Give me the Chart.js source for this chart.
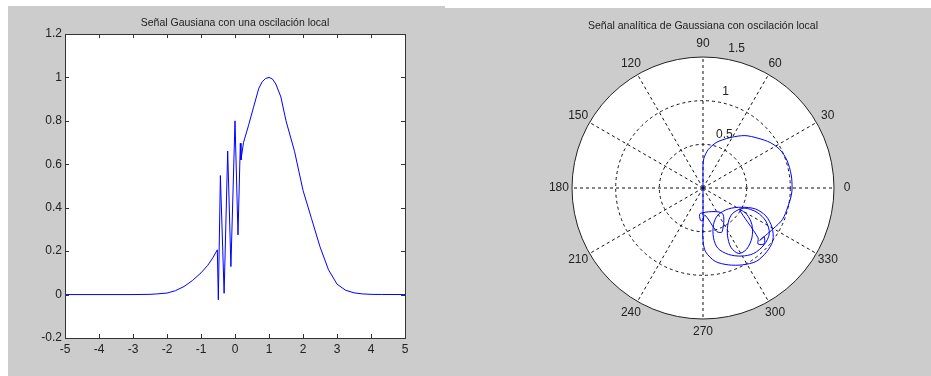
<!DOCTYPE html>
<html>
<head>
<meta charset="utf-8">
<script src="https://cdn.jsdelivr.net/npm/chart.js@4/dist/chart.umd.min.js"></script>
<style>
  html, body { margin: 0; padding: 0; background: #fff; }
  body { width: 931px; height: 376px; position: relative; overflow: hidden; font-family: 'Liberation Sans', Arial, sans-serif; }
  .panel { position: absolute; left: 8px; top: 6px; width: 923px; height: 370px; background: #cccccc; }
  .strip { position: absolute; left: 445px; top: 6px; width: 486px; height: 2px; background: #fff; }
  canvas { position: absolute; }
  #left { left: 8px; top: 6px; }
  #right { left: 440px; top: 8px; }
</style>
</head>
<body>
<div class="panel"></div>
<div class="strip"></div>
<canvas id="left" width="412" height="370"></canvas>
<canvas id="right" width="491" height="368"></canvas>
<script>
// Left plot: Gaussian with a local oscillation
const tVals = [-5, -4, -3, -2.5, -2.3, -2, -1.75, -1.5, -1.25, -1, -0.8, -0.65, -0.52,
  -0.49, -0.43, -0.32, -0.215, -0.12, 0.0, 0.088, 0.157, 0.176,
  0.25, 0.4, 0.54, 0.7, 0.8, 0.9, 1.0, 1.1, 1.2, 1.35, 1.5, 1.75, 2.0, 2.25, 2.5, 2.75,
  3.0, 3.25, 3.5, 3.75, 4.0, 4.3, 5];
const sigVals = [0, 0, 0, 0.001, 0.003, 0.007, 0.018, 0.037, 0.065, 0.1, 0.135, 0.17, 0.206,
  -0.024, 0.548, 0.006, 0.661, 0.129, 0.80, 0.275, 0.697, 0.62,
  0.70, 0.78, 0.86, 0.95, 0.98, 0.995, 1.0, 0.993, 0.97, 0.91, 0.80, 0.66, 0.48, 0.35, 0.22, 0.114,
  0.048, 0.02, 0.008, 0.003, 0.001, 0.0005, 0];
const xTicks = [-5, -4, -3, -2, -1, 0, 1, 2, 3, 4, 5];
const yTicks = [-0.2, 0, 0.2, 0.4, 0.6, 0.8, 1, 1.2];
const yTickLabels = ['-0.2', '0', '0.2', '0.4', '0.6', '0.8', '1', '1.2'];

// Right plot: analytic signal (real / imaginary parts)
const reVals = [0, 0, 0, 0, -0.03, -0.03, 0.22, 0.22, 0.16, 0.02, 0, 0,
  0.03, 0.14, 0.29, 0.45, 0.61, 0.73, 0.80, 0.79, 0.72, 0.60, 0.44, 0.29, 0.17, 0.12,
  0.12, 0.17, 0.29, 0.44, 0.58, 0.70, 0.76, 0.72, 0.62, 0.47, 0.34, 0.29,
  0.28, 0.32, 0.41, 0.50, 0.56, 0.56, 0.50, 0.42,
  0.63, 0.63, 0.70, 0.70, 0.65,
  0.80, 0.91, 0.97, 1.01, 1.02, 1.01, 0.96, 0.88, 0.77, 0.63, 0.48, 0.32, 0.22, 0.15,
  0.06, 0.01, 0, 0, 0];
const imVals = [0, -0.14, -0.29, -0.37, -0.37, -0.29, -0.29, -0.50, -0.50, -0.31, -0.41, -0.60,
  -0.73, -0.84, -0.88, -0.88, -0.84, -0.73, -0.60, -0.45, -0.32, -0.24, -0.22, -0.24, -0.31, -0.42,
  -0.57, -0.69, -0.76, -0.78, -0.75, -0.65, -0.52, -0.38, -0.28, -0.23, -0.29, -0.39,
  -0.54, -0.68, -0.75, -0.70, -0.57, -0.42, -0.30, -0.25,
  -0.57, -0.64, -0.64, -0.56, -0.60,
  -0.47, -0.36, -0.22, -0.09, 0, 0.15, 0.32, 0.44, 0.52, 0.57, 0.60, 0.58, 0.55, 0.52,
  0.44, 0.34, 0.26, 0.12, 0];
const angleTicks = [0, 30, 60, 90, 120, 150, 180, 210, 240, 270, 300, 330];
const rhoTicks = [0.5, 1, 1.5];

const FONT = "'Liberation Sans', Arial, sans-serif";
const TEXT = '#222';

const boxPlugin = {
  id: 'box',
  beforeDraw(chart) {
    const a = chart.chartArea, ctx = chart.ctx;
    ctx.save();
    ctx.fillStyle = '#fff';
    ctx.fillRect(a.left, a.top, a.right - a.left, a.bottom - a.top);
    ctx.restore();
  },
  afterDraw(chart) {
    const a = chart.chartArea, ctx = chart.ctx;
    const xs = chart.scales.x, ys = chart.scales.y;
    ctx.save();
    ctx.strokeStyle = '#333';
    ctx.lineWidth = 1;
    ctx.strokeRect(a.left + 0.5, a.top + 0.5, a.right - a.left, a.bottom - a.top);
    ctx.beginPath();
    xTicks.forEach(v => {
      const p = Math.round(xs.getPixelForValue(v)) + 0.5;
      ctx.moveTo(p, a.bottom); ctx.lineTo(p, a.bottom - 4);
      ctx.moveTo(p, a.top); ctx.lineTo(p, a.top + 4);
    });
    yTicks.forEach(v => {
      const p = Math.round(ys.getPixelForValue(v)) + 0.5;
      ctx.moveTo(a.left, p); ctx.lineTo(a.left + 4, p);
      ctx.moveTo(a.right, p); ctx.lineTo(a.right - 4, p);
    });
    ctx.stroke();
    ctx.restore();
  }
};

new Chart(document.getElementById('left'), {
  type: 'scatter',
  data: {
    datasets: [{
      data: tVals.map((t, i) => ({ x: t, y: sigVals[i] })),
      showLine: true,
      borderColor: '#0000ff',
      borderWidth: 1,
      pointRadius: 0,
      tension: 0
    }]
  },
  options: {
    responsive: false,
    animation: false,
    layout: { padding: { left: 0, right: 15, top: 0, bottom: 0 } },
    plugins: {
      legend: { display: false },
      tooltip: { enabled: false },
      title: {
        display: true,
        fullSize: false,
        text: 'Señal Gausiana con una oscilación local',
        color: TEXT,
        font: { family: FONT, size: 10.5, weight: 'normal' },
        padding: { top: 11, bottom: 4.4 }
      }
    },
    scales: {
      x: {
        type: 'linear', min: -5, max: 5,
        afterBuildTicks: s => { s.ticks = xTicks.map(v => ({ value: v })); },
        afterFit: s => { s.height = 38; },
        grid: { display: false, drawTicks: false },
        border: { display: false },
        ticks: { padding: 4, color: TEXT, font: { family: FONT, size: 12 }, maxRotation: 0, autoSkip: false }
      },
      y: {
        type: 'linear', min: -0.2, max: 1.2,
        afterBuildTicks: s => { s.ticks = yTicks.map(v => ({ value: v })); },
        afterFit: s => { s.width = 57; },
        grid: { display: false, drawTicks: false },
        border: { display: false },
        ticks: {
          padding: 3, color: TEXT, font: { family: FONT, size: 12 }, autoSkip: false,
          callback: (v, i) => yTickLabels[i]
        }
      }
    }
  },
  plugins: [boxPlugin]
});

const polarPlugin = {
  id: 'polarGrid',
  beforeDatasetsDraw(chart) {
    const ctx = chart.ctx, xs = chart.scales.x, ys = chart.scales.y;
    const cx = xs.getPixelForValue(0), cy = ys.getPixelForValue(0);
    const k = xs.getPixelForValue(1) - cx;
    const rmax = rhoTicks[rhoTicks.length - 1];
    ctx.save();
    ctx.fillStyle = '#fff';
    ctx.beginPath(); ctx.arc(cx, cy, rmax * k, 0, Math.PI * 2); ctx.fill();
    ctx.strokeStyle = '#111';
    ctx.lineWidth = 1;
    ctx.setLineDash([3, 3]);
    rhoTicks.slice(0, -1).forEach(r => {
      ctx.beginPath(); ctx.arc(cx, cy, r * k, 0, Math.PI * 2); ctx.stroke();
    });
    angleTicks.forEach(a => {
      const rad = a * Math.PI / 180;
      ctx.beginPath();
      ctx.moveTo(cx, cy);
      ctx.lineTo(cx + Math.cos(rad) * rmax * k, cy - Math.sin(rad) * rmax * k);
      ctx.stroke();
    });
    ctx.setLineDash([]);
    ctx.strokeStyle = '#222';
    ctx.beginPath(); ctx.arc(cx, cy, rmax * k, 0, Math.PI * 2); ctx.stroke();
    ctx.restore();
  },
  afterDraw(chart) {
    const ctx = chart.ctx, xs = chart.scales.x, ys = chart.scales.y;
    const cx = xs.getPixelForValue(0), cy = ys.getPixelForValue(0);
    const k = xs.getPixelForValue(1) - cx;
    const rmax = rhoTicks[rhoTicks.length - 1];
    ctx.save();
    ctx.fillStyle = TEXT;
    ctx.font = '12px ' + FONT;
    ctx.textAlign = 'center';
    ctx.textBaseline = 'middle';
    angleTicks.forEach(a => {
      const rad = a * Math.PI / 180;
      const r = rmax * k * 1.1;
      ctx.fillText(String(a), cx + Math.cos(rad) * r, cy - Math.sin(rad) * r);
    });
    ctx.textAlign = 'left';
    const ra = 82 * Math.PI / 180;
    rhoTicks.forEach(r => {
      ctx.fillText(String(r), cx + Math.cos(ra) * r * k + 7, cy - Math.sin(ra) * r * k - 10);
    });
    ctx.restore();
  }
};

new Chart(document.getElementById('right'), {
  type: 'scatter',
  data: {
    datasets: [{
      data: reVals.map((re, i) => ({ x: re, y: imVals[i] })),
      showLine: true,
      borderColor: '#0000ff',
      borderWidth: 1,
      pointRadius: 0,
      tension: 0.3
    }]
  },
  options: {
    responsive: false,
    animation: false,
    layout: { padding: { left: 132, right: 97, top: 0, bottom: 57 } },
    plugins: {
      legend: { display: false },
      tooltip: { enabled: false },
      title: {
        display: true,
        text: 'Señal analítica de Gaussiana con oscilación local',
        color: TEXT,
        font: { family: FONT, size: 10.5, weight: 'normal' },
        padding: { top: 12, bottom: 24.4 }
      }
    },
    scales: {
      x: { type: 'linear', min: -1.5, max: 1.5, display: false },
      y: { type: 'linear', min: -1.5, max: 1.5, display: false }
    }
  },
  plugins: [polarPlugin]
});
</script>
</body>
</html>
